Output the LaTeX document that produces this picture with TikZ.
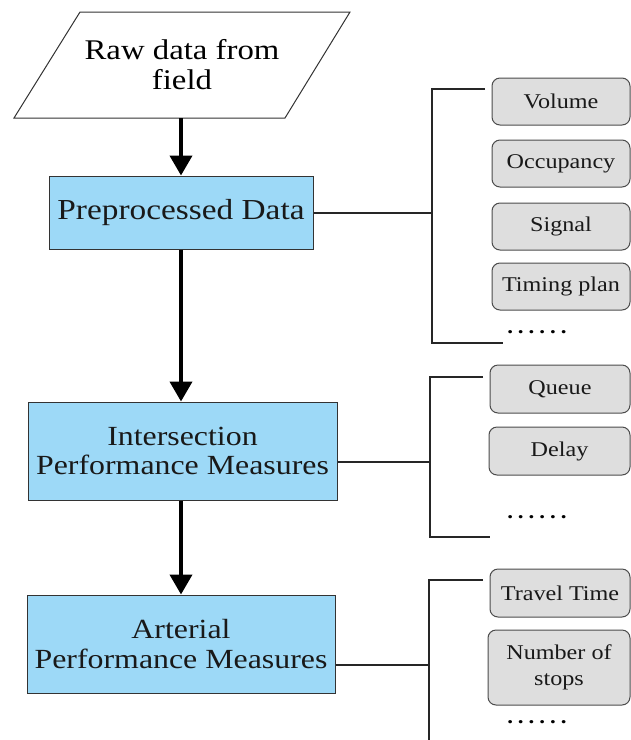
\documentclass[tikz,border=0pt]{standalone}
\usepackage{fontspec}
\setmainfont{Liberation Serif}[FakeStretch=1.15]
\usetikzlibrary{arrows.meta}
\definecolor{boxblue}{HTML}{9DD9F7}
\definecolor{itemgray}{HTML}{DEDEDE}
\begin{document}
\begin{tikzpicture}[x=1pt,y=-1pt,
  mbox/.style={draw=black!80, line width=1pt, fill=boxblue, align=center, inner sep=0pt, text=black!90},
  item/.style={draw=black!70, line width=1pt, fill=itemgray, rounded corners=8pt, align=center, inner sep=0pt, text=black!90, font=\fontsize{21}{24}\selectfont},
  flow/.style={line width=4pt, -{Triangle[width=22pt,length=20pt]}},
  br/.style={line width=1.5pt, draw=black!85},
  dotsty/.style={inner sep=0pt, font=\fontsize{20}{20}\selectfont\bfseries\addfontfeature{LetterSpace=25}}]
\useasboundingbox (0,0) rectangle (631,740);
% raw data parallelogram
\draw[line width=1pt, draw=black!80, fill=white] (80,12) -- (350,12) -- (285,118) -- (14,118) -- cycle;
\node[inner sep=0pt, minimum width=200pt, minimum height=106pt, align=center, font=\fontsize{28.5}{30}\selectfont] (raw) at (182,65) {Raw data from\\field};
% main boxes
\node[mbox, minimum width=264pt, minimum height=73pt, font=\fontsize{29}{31}\selectfont] (pre) at (181,212.5) {Preprocessed Data};
\node[mbox, minimum width=309pt, minimum height=98pt, font=\fontsize{27.7}{29.5}\selectfont] (inter) at (182.5,451) {Intersection\\Performance Measures};
\node[mbox, minimum width=308pt, minimum height=98pt, font=\fontsize{27.7}{29.5}\selectfont] (art) at (181,644) {Arterial\\Performance Measures};
% flow arrows
\coordinate (a1s) at (raw.south -| pre.north);
\coordinate (a3s) at (pre.south |- inter.south);
\coordinate (a3e) at (pre.south |- art.north);
\draw[flow] (a1s) -- (pre.north);
\draw[flow] (pre.south) -- (pre.south |- inter.north);
\draw[flow] (a3s) -- (a3e);
% items group 1
\node[item, minimum width=138pt, minimum height=47pt] (vol) at (561,101.5) {Volume};
\node[item, minimum width=138pt, minimum height=47pt] (occ) at (561,163.5) {Occupancy};
\node[item, minimum width=138pt, minimum height=47pt] (sig) at (561,226.5) {Signal};
\node[item, minimum width=138pt, minimum height=47pt] (tim) at (561,286.5) {Timing plan};
\node[dotsty] (d1) at (537,332) {......};
% items group 2
\node[item, minimum width=140pt, minimum height=48pt] (que) at (560,389) {Queue};
\node[item, minimum width=141pt, minimum height=48pt] (del) at (559.5,451) {Delay};
\node[dotsty] (d2) at (537,517) {......};
% items group 3
\node[item, minimum width=140pt, minimum height=48pt] (tt) at (560,593) {Travel Time};
\node[item, minimum width=142pt, minimum height=75pt, font=\fontsize{21}{26}\selectfont] (nos) at (559,667.5) {Number of\\stops};
\node[dotsty] (d3) at (537,722) {......};
% bracket 1
\coordinate (b1t) at (432,89);
\coordinate (b1b) at (432,343);
\coordinate (b1m) at (432,213);
\coordinate (b1te) at (485,89);
\coordinate (b1be) at (503,343);
\draw[br] (b1te) -- (b1t) -- (b1b) -- (b1be);
\draw[br] (pre.east |- b1m) -- (b1m);
% bracket 2
\coordinate (b2t) at (430,377);
\coordinate (b2b) at (430,537);
\coordinate (b2m) at (430,462);
\coordinate (b2te) at (483,377);
\coordinate (b2be) at (490,537);
\draw[br] (b2te) -- (b2t) -- (b2b) -- (b2be);
\draw[br] (inter.east |- b2m) -- (b2m);
% bracket 3
\coordinate (b3t) at (429,580);
\coordinate (b3b) at (429,740);
\coordinate (b3m) at (429,665);
\coordinate (b3te) at (483,580);
\draw[br] (b3te) -- (b3t) -- (b3b);
\draw[br] (art.east |- b3m) -- (b3m);
\end{tikzpicture}
\end{document}
